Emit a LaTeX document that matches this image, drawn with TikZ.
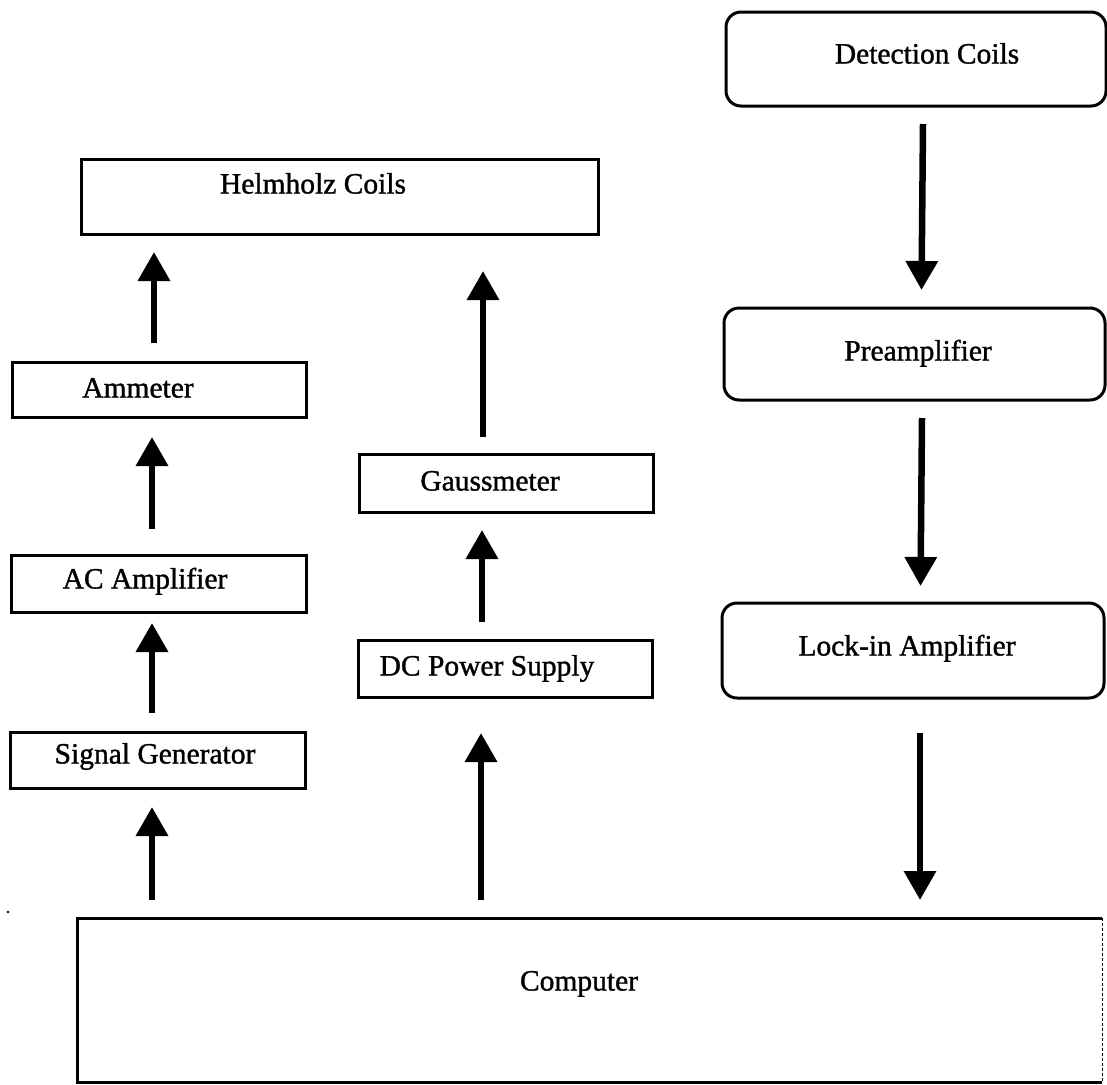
\documentclass[tikz,border=0pt]{standalone}
\usepackage{fontspec}
\setmainfont[FakeBold=1.2]{Liberation Serif}
\usetikzlibrary{arrows.meta}
\begin{document}
\begin{tikzpicture}[x=1pt,y=-1pt,
  every node/.style={font=\fontsize{29.5}{34}\selectfont},
  box/.style={draw, line width=3pt, inner sep=0pt, outer sep=0pt},
  rbox/.style={box, rounded corners=15pt},
  txt/.style={text height=21pt, text depth=0pt, inner sep=0pt},
  arr/.style={line width=6.5pt, -{Triangle[width=31pt,length=29pt]}}]
\useasboundingbox (0,0) rectangle (1107,1084);

% left column
\node[box, minimum width=517pt, minimum height=75pt,
  label={[txt, name=helmT, xshift=-26.5pt, yshift=13.5pt]center:Helmholz Coils}] (helm) at (339.5,196.5) {};
\node[box, minimum width=294pt, minimum height=55pt,
  label={[txt, name=ammT, xshift=-21pt, yshift=2.5pt]center:Ammeter}] (amm) at (159,389.5) {};
\node[box, minimum width=295pt, minimum height=57pt,
  label={[txt, name=acT, xshift=-13.5pt, yshift=5.5pt]center:AC Amplifier}] (ac) at (158.5,583.5) {};
\node[box, minimum width=295pt, minimum height=56pt,
  label={[txt, name=sgT, xshift=-2.5pt, yshift=7pt]center:Signal Generator}] (sg) at (157.5,760) {};

% middle column
\node[box, minimum width=294pt, minimum height=58pt,
  label={[txt, name=gaussT, xshift=-16pt, yshift=3pt]center:Gaussmeter}] (gauss) at (506,483) {};
\node[box, minimum width=294pt, minimum height=57pt,
  label={[txt, name=dcT, xshift=-18pt, yshift=3.5pt]center:DC Power Supply}] (dc) at (505,668.5) {};

% right column
\node[rbox, minimum width=380pt, minimum height=94pt,
  label={[txt, name=detT, xshift=11pt, yshift=6pt]center:Detection Coils}] (det) at (916,59) {};
\node[rbox, minimum width=381pt, minimum height=92pt,
  label={[txt, name=preT, xshift=3.5pt, yshift=4pt]center:Preamplifier}] (pre) at (914.5,354) {};
\node[rbox, minimum width=382pt, minimum height=95pt,
  label={[txt, name=lockT, xshift=-6pt, yshift=5.5pt]center:Lock-in Amplifier}] (lock) at (913,650.5) {};

% computer
\node[inner sep=0pt, outer sep=0pt, minimum width=1025pt, minimum height=164pt,
  label={[txt, name=compT, xshift=-10.5pt, yshift=20pt]center:Computer}] (comp) at (589.5,1000) {};
\draw[line width=3pt, line join=miter] (comp.south east) -- (comp.south west) -- (comp.north west) -- (comp.north east);
\draw[line width=0.8pt, densely dashed] (comp.north east) -- (comp.south east);

% arrows
\draw[arr] ([xshift=-5pt, yshift=19pt]amm.north) -- ([xshift=-185.5pt, yshift=-18pt]helm.south);
\draw[arr] ([xshift=-23pt, yshift=17pt]gauss.north) -- ([xshift=143.5pt, yshift=-37pt]helm.south);
\draw[arr] ([xshift=-6.5pt, yshift=26pt]ac.north) -- ([xshift=-7pt, yshift=-20pt]amm.south);
\draw[arr] ([xshift=-5.5pt, yshift=19pt]sg.north) -- ([xshift=-6.5pt, yshift=-11pt]ac.south);
\draw[arr] ([xshift=-437.5pt, yshift=18pt]comp.north) -- ([xshift=-5.5pt, yshift=-19pt]sg.south);
\draw[arr] ([xshift=-23pt, yshift=18pt]dc.north) -- ([xshift=-24pt, yshift=-18pt]gauss.south);
\draw[arr] ([xshift=-108.5pt, yshift=18pt]comp.north) -- ([xshift=-24pt, yshift=-36pt]dc.south);
\draw[arr] ([xshift=7pt, yshift=-18pt]det.south) -- ([xshift=7pt, yshift=18pt]pre.north);
\draw[arr] ([xshift=7.5pt, yshift=-18pt]pre.south) -- ([xshift=7.5pt, yshift=17pt]lock.north);
\draw[arr] ([xshift=7pt, yshift=-35pt]lock.south) -- ([xshift=330.5pt, yshift=18pt]comp.north);

% stray mark
\fill (8,912) circle (1.3pt);
\end{tikzpicture}
\end{document}
